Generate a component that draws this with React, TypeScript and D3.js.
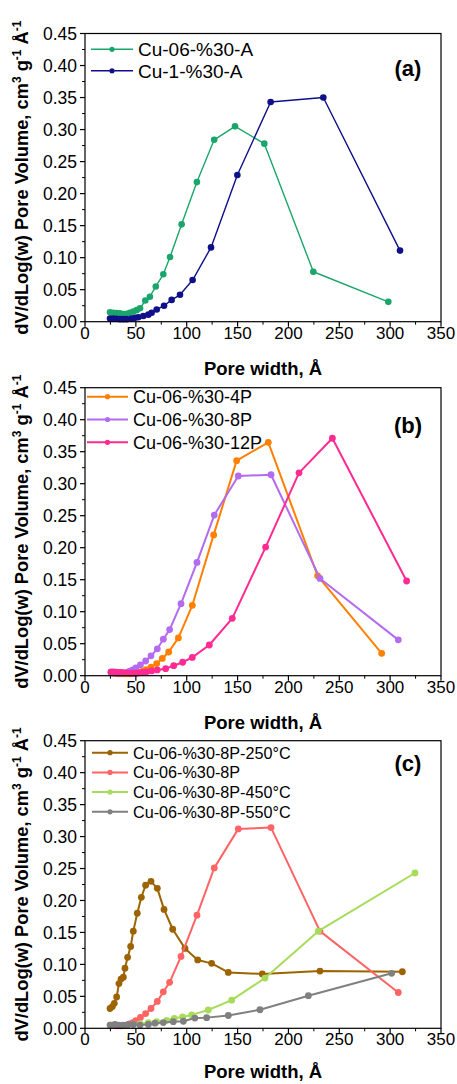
import React from "react";
import * as d3 from "d3";

// ---------- data ----------
const xTicks = [0, 50, 100, 150, 200, 250, 300, 350];
const yTicks = [0, 0.05, 0.1, 0.15, 0.2, 0.25, 0.3, 0.35, 0.4, 0.45];

// panel (a)
const A06_x = [24.6, 27.9, 31.1, 34.4, 37.7, 41, 44.2, 47.5, 50.8, 54.1, 59.3, 63.8, 69.6, 77, 83.6, 95, 110, 127, 147.5, 176.3, 224.5, 298.2];
const A06_y = [0.0146, 0.014, 0.0135, 0.013, 0.012, 0.0125, 0.014, 0.016, 0.018, 0.021, 0.033, 0.039, 0.055, 0.074, 0.101, 0.152, 0.218, 0.284, 0.305, 0.278, 0.078, 0.031];
const A1_x = [24.6, 27.8, 31.1, 34.4, 37.7, 41, 45.9, 49.2, 52.4, 57.3, 62.3, 65.5, 70.5, 77.7, 85.2, 93.4, 105.8, 123.9, 149.8, 182.5, 234.3, 309.7];
const A1_y = [0.005, 0.005, 0.0045, 0.004, 0.004, 0.004, 0.005, 0.006, 0.007, 0.009, 0.011, 0.014, 0.019, 0.025, 0.034, 0.042, 0.065, 0.116, 0.229, 0.343, 0.35, 0.111];

// panel (b)
const B4_x = [25.6, 28, 30.5, 33, 35.5, 38, 41, 44, 47, 50, 53, 56.5, 60, 64.9, 70.5, 76, 82.3, 91.8, 105.5, 126.5, 149.1, 180.2, 228.7, 291.7];
const B4_y = [0.005, 0.004, 0.004, 0.003, 0.003, 0.003, 0.003, 0.003, 0.0035, 0.004, 0.005, 0.007, 0.0094, 0.0135, 0.019, 0.027, 0.037, 0.059, 0.11, 0.22, 0.336, 0.3646, 0.156, 0.035];
const B8_x = [25.6, 28, 30.5, 33, 35.5, 38, 41, 44, 47, 50, 54.5, 59.6, 64.9, 71.1, 77, 83.2, 94.4, 110.1, 127.1, 150.7, 182.9, 231, 308];
const B8_y = [0.005, 0.005, 0.004, 0.004, 0.004, 0.0045, 0.005, 0.007, 0.009, 0.012, 0.017, 0.023, 0.031, 0.042, 0.057, 0.072, 0.1125, 0.177, 0.251, 0.312, 0.314, 0.152, 0.056];
const B12_x = [25.6, 28, 30.5, 33, 35.5, 38, 41, 44, 47, 50, 53, 56.5, 60.5, 65.5, 71, 79.3, 87.2, 96, 105.5, 122.2, 144.8, 177.6, 210.4, 243.2, 316.2];
const B12_y = [0.006, 0.006, 0.0055, 0.005, 0.005, 0.0045, 0.0045, 0.004, 0.004, 0.004, 0.0045, 0.005, 0.006, 0.0075, 0.009, 0.011, 0.0156, 0.021, 0.0286, 0.048, 0.0896, 0.201, 0.317, 0.371, 0.148];

// panel (c)
const C250_x = [24.6, 26.9, 28.8, 31.1, 33.4, 35.4, 37.7, 39.3, 41.9, 44.9, 47.5, 51.4, 55.4, 59.6, 64.9, 71.1, 77.7, 86.2, 98.3, 110.8, 124.5, 140.9, 174.3, 231, 312];
const C250_y = [0.031, 0.034, 0.039, 0.049, 0.07, 0.077, 0.08, 0.094, 0.111, 0.128, 0.152, 0.18, 0.205, 0.224, 0.23, 0.219, 0.186, 0.155, 0.125, 0.107, 0.1016, 0.0875, 0.085, 0.0896, 0.0885];
const C8_x = B8_x;
const C8_y = B8_y;
const C450_x = [47.5, 54, 62.3, 70.5, 80.3, 87.8, 96, 104.9, 121.2, 144.2, 177, 229.4, 324.4];
const C450_y = [0.006, 0.007, 0.009, 0.0104, 0.0125, 0.0156, 0.0177, 0.021, 0.0286, 0.044, 0.0786, 0.152, 0.243];
const C550_x = [24.6, 29.5, 32.8, 37.7, 42.6, 47.5, 54, 62.3, 68.8, 77, 86.8, 96.7, 108, 119.6, 140.9, 172, 219.6, 301.5];
const C550_y = [0.005, 0.006, 0.005, 0.005, 0.006, 0.006, 0.005, 0.006, 0.008, 0.009, 0.0104, 0.011, 0.016, 0.0167, 0.02, 0.029, 0.051, 0.086];

type Series = { name: string; xs: number[]; ys: number[]; color: string };

const panelA: Series[] = [
  { name: "Cu-06-%30-A", xs: A06_x, ys: A06_y, color: "#1aa66a" },
  { name: "Cu-1-%30-A", xs: A1_x, ys: A1_y, color: "#0f0f8a" },
];
const panelB: Series[] = [
  { name: "Cu-06-%30-4P", xs: B4_x, ys: B4_y, color: "#ff8000" },
  { name: "Cu-06-%30-8P", xs: B8_x, ys: B8_y, color: "#b36bf0" },
  { name: "Cu-06-%30-12P", xs: B12_x, ys: B12_y, color: "#ff2b92" },
];
const panelC: Series[] = [
  { name: "Cu-06-%30-8P-250°C", xs: C250_x, ys: C250_y, color: "#9c6400" },
  { name: "Cu-06-%30-8P", xs: C8_x, ys: C8_y, color: "#ff6464" },
  { name: "Cu-06-%30-8P-450°C", xs: C450_x, ys: C450_y, color: "#a6dc5a" },
  { name: "Cu-06-%30-8P-550°C", xs: C550_x, ys: C550_y, color: "#808080" },
];

const FONT = "'Liberation Sans', Arial, sans-serif";

type PanelProps = {
  top: number;
  bottom: number;
  series: Series[];
  label: string;
  labelY: number;
  legendY: number;
  legendStep: number;
  legendFont: number;
  legendX0: number;
  legendX1: number;
  legendTextX: number;
  lineWidth: number;
  r: number;
  titleOffset: number;
};

function Panel(p: PanelProps) {
  const left = 85;
  const right = 441;
  const x = d3.scaleLinear().domain([0, 350]).range([left, right]);
  const y = d3.scaleLinear().domain([0, 0.45]).range([p.bottom, p.top]);
  const minorX = d3.range(25, 350, 50);
  const minorY = d3.range(0.025, 0.45, 0.05);
  const midY = (p.top + p.bottom) / 2;
  return (
    <g>
      {p.series.map((s) => {
        const pts = s.xs.map((v, i) => [v, s.ys[i]] as [number, number]);
        const line = d3
          .line<[number, number]>()
          .x((d) => x(d[0]))
          .y((d) => y(d[1]));
        return (
          <g key={s.name}>
            <path d={line(pts) || ""} fill="none" stroke={s.color} strokeWidth={p.lineWidth} strokeLinejoin="round" />
            {pts.map((d, i) => (
              <circle key={i} cx={x(d[0])} cy={y(d[1])} r={p.r} fill={s.color} />
            ))}
          </g>
        );
      })}
      <rect x={left} y={p.top} width={right - left} height={p.bottom - p.top} fill="none" stroke="#000" strokeWidth={1.2} />
      {xTicks.map((t) => (
        <g key={"xt" + t}>
          <line x1={x(t)} x2={x(t)} y1={p.bottom} y2={p.bottom + 5} stroke="#000" strokeWidth={1.2} />
          <text x={x(t)} y={p.bottom + 17} textAnchor="middle" fontSize={17} fontFamily={FONT}>
            {t}
          </text>
        </g>
      ))}
      {minorX.map((t) => (
        <line key={"xm" + t} x1={x(t)} x2={x(t)} y1={p.bottom} y2={p.bottom + 3} stroke="#000" strokeWidth={1} />
      ))}
      {yTicks.map((t) => (
        <g key={"yt" + t}>
          <line x1={left - 5} x2={left} y1={y(t)} y2={y(t)} stroke="#000" strokeWidth={1.2} />
          <text x={77} y={y(t)} dy="0.36em" textAnchor="end" fontSize={17.5} fontFamily={FONT}>
            {t.toFixed(2)}
          </text>
        </g>
      ))}
      {minorY.map((t) => (
        <line key={"ym" + t} x1={left - 3} x2={left} y1={y(t)} y2={y(t)} stroke="#000" strokeWidth={1} />
      ))}
      <text x={263} y={p.bottom + p.titleOffset} textAnchor="middle" fontSize={18.5} fontWeight="bold" fontFamily={FONT}>
        Pore width, Å
      </text>
      <text transform={`translate(28,${midY}) rotate(-90)`} textAnchor="middle" fontSize={18.3} fontWeight="bold" fontFamily={FONT}>
        dV/dLog(w) Pore Volume, cm
        <tspan fontSize={12} dy={-7}>3</tspan>
        <tspan dy={7}> g</tspan>
        <tspan fontSize={12} dy={-7}>-1</tspan>
        <tspan dy={7}> Å</tspan>
        <tspan fontSize={12} dy={-7}>-1</tspan>
      </text>
      <text x={408} y={p.labelY} dy="0.35em" textAnchor="middle" fontSize={22} fontWeight="bold" fontFamily={FONT}>
        {p.label}
      </text>
      {p.series.map((s, i) => {
        const ly = p.legendY + i * p.legendStep;
        return (
          <g key={"lg" + s.name}>
            <line x1={p.legendX0} x2={p.legendX1} y1={ly} y2={ly} stroke={s.color} strokeWidth={p.lineWidth} />
            <circle cx={(p.legendX0 + p.legendX1) / 2} cy={ly} r={2.6} fill={s.color} />
            <text x={p.legendTextX} y={ly} dy="0.36em" fontSize={p.legendFont} fontFamily={FONT}>
              {s.name}
            </text>
          </g>
        );
      })}
    </g>
  );
}

export default function App() {
  return (
    <svg width={457} height={1084} style={{ position: "absolute", left: 0, top: 0, background: "#fff" }}>
      <rect x={0} y={0} width={457} height={1084} fill="#fff" />
      <Panel top={33.5} bottom={321.7} series={panelA} label="(a)" labelY={68} legendY={49.3} legendStep={21.5}
        legendFont={19} legendX0={91} legendX1={133} legendTextX={138} lineWidth={1.4} r={3.3} titleOffset={53.5} />
      <Panel top={387.7} bottom={675.7} series={panelB} label="(b)" labelY={425} legendY={396.7} legendStep={22.8}
        legendFont={18} legendX0={87} legendX1={128} legendTextX={133} lineWidth={2} r={3.4} titleOffset={53} />
      <Panel top={740.7} bottom={1028.3} series={panelC} label="(c)" labelY={763} legendY={752.7} legendStep={19.7}
        legendFont={16.2} legendX0={92} legendX1={128} legendTextX={133} lineWidth={2} r={3.4} titleOffset={50} />
    </svg>
  );
}
